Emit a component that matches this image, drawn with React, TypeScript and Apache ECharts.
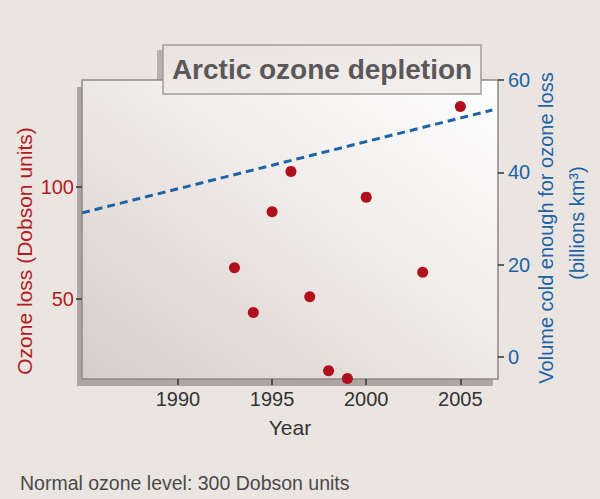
import React, { useEffect, useRef } from "react";
import * as echarts from "echarts";

const years = [1993, 1994, 1995, 1996, 1997, 1998, 1999, 2000, 2003, 2005];
const ozoneLoss = [64, 44, 89, 107, 51, 18, 14.5, 95.5, 62, 136];
const trendYears = [1984.9, 2006.7];
const trendVolume = [31.2, 53.5];
const xTicks = [1990, 1995, 2000, 2005];
const leftTicks = [50, 100];
const rightTicks = [0, 20, 40, 60];

const FONT = "'Liberation Sans', Arial, Helvetica, sans-serif";
const RED = "#b31b22";
const BLUE = "#1d63a6";
const DARK = "#333333";
const plain = (v: number) => String(v);

export default function App() {
  const ref = useRef<HTMLDivElement>(null);
  useEffect(() => {
    if (!ref.current) return;
    const chart = echarts.init(ref.current, undefined, { renderer: "svg" });
    const option: any = {
      animation: false,
      backgroundColor: "#ebe5e2",
      textStyle: { fontFamily: FONT },
      grid: {
        left: 82,
        right: 102,
        top: 80,
        bottom: 120,
        show: true,
        borderColor: "#8d8887",
        borderWidth: 1.5,
        backgroundColor: new echarts.graphic.LinearGradient(0, 1, 1, 0, [
          { offset: 0, color: "#d6cdc9" },
          { offset: 0.55, color: "#efebe9" },
          { offset: 1, color: "#ffffff" },
        ]),
      },
      xAxis: {
        type: "value",
        min: 1984.9,
        max: 2007,
        axisLine: { show: false, onZero: false },
        splitLine: { show: false },
        axisTick: {
          show: true,
          customValues: xTicks,
          length: 6,
          lineStyle: { color: DARK, width: 1.5 },
        },
        axisLabel: {
          customValues: xTicks,
          formatter: plain,
          color: DARK,
          fontSize: 20,
          margin: 10,
          fontFamily: FONT,
        },
      },
      yAxis: [
        {
          type: "value",
          position: "left",
          min: 14.3,
          max: 147.8,
          axisLine: { show: false, onZero: false },
          splitLine: { show: false },
          axisTick: {
            show: true,
            customValues: leftTicks,
            length: 6,
            lineStyle: { color: DARK, width: 1.5 },
          },
          axisLabel: {
            customValues: leftTicks,
            formatter: plain,
            color: RED,
            fontSize: 20,
            margin: 8,
            fontFamily: FONT,
          },
        },
        {
          type: "value",
          position: "right",
          min: -4.8,
          max: 60,
          axisLine: { show: false, onZero: false },
          splitLine: { show: false },
          axisTick: {
            show: true,
            customValues: rightTicks,
            length: 6,
            lineStyle: { color: DARK, width: 1.5 },
          },
          axisLabel: {
            customValues: rightTicks,
            formatter: plain,
            color: BLUE,
            fontSize: 20,
            margin: 10,
            fontFamily: FONT,
          },
        },
      ],
      series: [
        {
          type: "line",
          yAxisIndex: 1,
          data: trendYears.map((y, i) => [y, trendVolume[i]]),
          symbol: "none",
          lineStyle: { color: BLUE, width: 3, type: [8, 5] },
          z: 3,
        },
        {
          type: "scatter",
          yAxisIndex: 0,
          data: years.map((y, i) => [y, ozoneLoss[i]]),
          symbolSize: 11,
          itemStyle: { color: "#b00f1c", opacity: 1 },
          clip: false,
          z: 4,
        },
      ],
      graphic: [
        {
          type: "rect",
          z: -5,
          shape: { x: 157, y: 50, width: 318, height: 49 },
          style: { fill: "#b7b0ae" },
        },
        {
          type: "rect",
          z: -5,
          shape: { x: 77, y: 87, width: 416, height: 299 },
          style: { fill: "#aca5a4" },
        },
        {
          type: "rect",
          z: 10,
          shape: { x: 163, y: 45, width: 318, height: 49 },
          style: {
            fill: new echarts.graphic.LinearGradient(0, 0, 1, 1, [
              { offset: 0, color: "#e8e2e0" },
              { offset: 1, color: "#f4f1ef" },
            ]),
            stroke: "#a39d9b",
            lineWidth: 1.5,
          },
        },
        {
          type: "text",
          z: 11,
          x: 322,
          y: 69,
          style: {
            text: "Arctic ozone depletion",
            fontSize: 28,
            fontWeight: "bold",
            fontFamily: FONT,
            fill: "#5a5858",
            align: "center",
            verticalAlign: "middle",
          },
        },
        {
          type: "text",
          z: 11,
          x: 24,
          y: 251,
          rotation: Math.PI / 2,
          style: {
            text: "Ozone loss (Dobson units)",
            fontSize: 21,
            fontFamily: FONT,
            fill: RED,
            align: "center",
            verticalAlign: "middle",
          },
        },
        {
          type: "text",
          z: 11,
          x: 546,
          y: 228,
          rotation: Math.PI / 2,
          style: {
            text: "Volume cold enough for ozone loss",
            fontSize: 20,
            fontFamily: FONT,
            fill: BLUE,
            align: "center",
            verticalAlign: "middle",
          },
        },
        {
          type: "text",
          z: 11,
          x: 577,
          y: 223,
          rotation: Math.PI / 2,
          style: {
            text: "(billions km³)",
            fontSize: 20,
            fontFamily: FONT,
            fill: BLUE,
            align: "center",
            verticalAlign: "middle",
          },
        },
        {
          type: "text",
          z: 11,
          x: 290,
          y: 427,
          style: {
            text: "Year",
            fontSize: 21,
            fontFamily: FONT,
            fill: DARK,
            align: "center",
            verticalAlign: "middle",
          },
        },
        {
          type: "text",
          z: 11,
          x: 20,
          y: 483,
          style: {
            text: "Normal ozone level: 300 Dobson units",
            fontSize: 19.5,
            fontFamily: FONT,
            fill: "#4a4a4a",
            align: "left",
            verticalAlign: "middle",
          },
        },
      ],
    };
    chart.setOption(option);
    return () => chart.dispose();
  }, []);
  return (
    <div
      ref={ref}
      style={{ position: "absolute", left: 0, top: 0, width: 600, height: 499 }}
    />
  );
}
